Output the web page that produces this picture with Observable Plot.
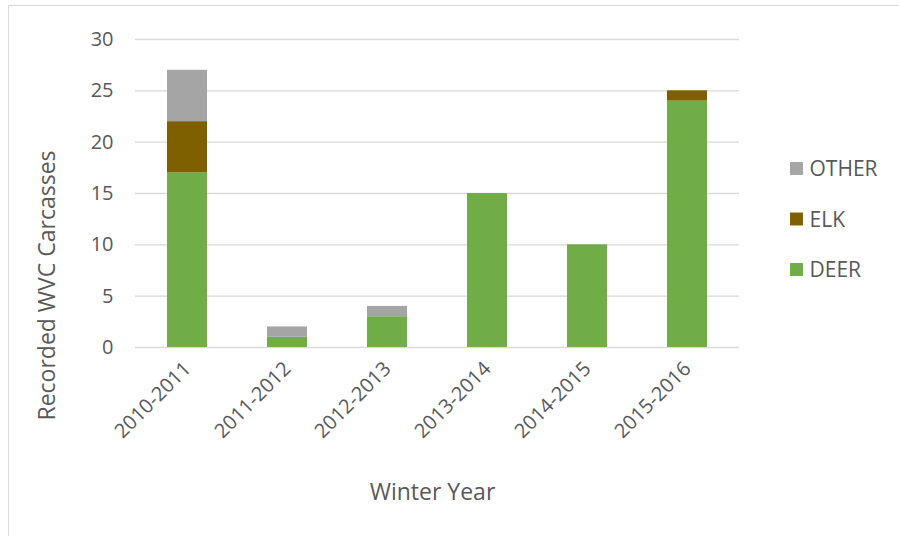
<!DOCTYPE html>
<html>
<head>
<meta charset="utf-8">
<script src="https://cdn.jsdelivr.net/npm/d3@7"></script>
<script src="https://cdn.jsdelivr.net/npm/@observablehq/plot@0.6"></script>
<style>
  html, body { margin: 0; padding: 0; background: #fff; overflow: hidden; }
  #wrap { position: relative; width: 899px; height: 536px; }
  #frame { position: absolute; left: 8px; top: 5px; width: 1000px; height: 1000px;
           border: 1px solid #d9d9d9; pointer-events: none; }
</style>
</head>
<body>
<div id="wrap"><div id="frame"></div></div>
<script>
const years = ["2010-2011", "2011-2012", "2012-2013", "2013-2014", "2014-2015", "2015-2016"];
const deer  = [17, 1, 3, 15, 10, 24];
const elk   = [5, 0, 0, 0, 0, 1];
const other = [5, 1, 1, 0, 0, 0];
const seriesNames = ["DEER", "ELK", "OTHER"];
const seriesColors = ["#70ad47", "#7f6000", "#a5a5a5"];
const yTicks = [0, 5, 10, 15, 20, 25, 30];

const seriesValues = [deer, elk, other];
const rows = [];
seriesNames.forEach((s, si) => {
  years.forEach((yr, i) => rows.push({year: yr, series: s, value: seriesValues[si][i]}));
});

const font = "'Open Sans', sans-serif";
const txt = "#595959";

const legendOrder = ["OTHER", "ELK", "DEER"];
const legendMarks = [];
legendOrder.forEach((s, i) => {
  const c = seriesColors[seriesNames.indexOf(s)];
  legendMarks.push(Plot.dot([s], {frameAnchor: "top-right", dx: 57, dy: 129 + i * 50.5,
    symbol: "square", r: 7.3, fill: c, stroke: null}));
  legendMarks.push(Plot.text([s], {frameAnchor: "top-right", lineAnchor: "middle", dx: 70, dy: 130 + i * 50.5,
    text: d => d, textAnchor: "start", fontSize: 21, fill: txt}));
});

const chart = Plot.plot({
  width: 899,
  height: 536,
  marginLeft: 135,
  marginRight: 160,
  marginTop: 39,
  marginBottom: 189,
  style: {fontFamily: font, fontSize: "20px", color: txt, background: "transparent"},
  x: {domain: years, paddingInner: 0.6, paddingOuter: 0.3, label: null, tickSize: 0, tickRotate: -45, tickPadding: 18},
  y: {domain: [0, 30], ticks: yTicks, label: null, tickSize: 0, tickPadding: 22},
  color: {domain: seriesNames, range: seriesColors},
  marks: [
    Plot.gridY(yTicks, {stroke: "#d9d9d9", strokeOpacity: 1, strokeWidth: 1.3}),
    Plot.barY(rows, {x: "year", y: "value", fill: "series", order: seriesNames}),
    Plot.text(["Recorded WVC Carcasses"], {frameAnchor: "left", textAnchor: "middle", rotate: -90, dx: -88, dy: 92,
      fontSize: 23, fill: txt}),
    Plot.text(["Winter Year"], {frameAnchor: "bottom", dx: -5, dy: 152, fontSize: 23, fill: txt}),
    ...legendMarks
  ]
});
chart.style.position = "absolute";
chart.style.left = "0px";
chart.style.top = "0px";
document.getElementById("wrap").appendChild(chart);
</script>
</body>
</html>
